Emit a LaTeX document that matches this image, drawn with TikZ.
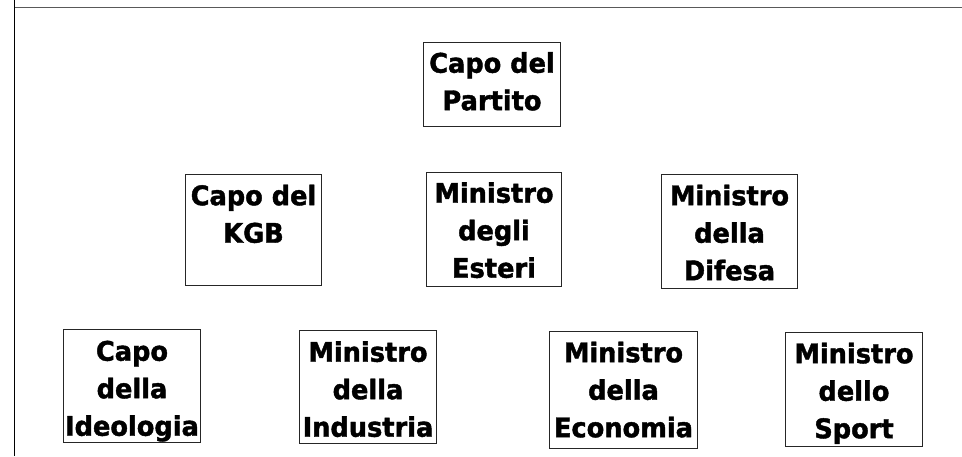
\documentclass[tikz,border=0pt]{standalone}
\usepackage{fontspec}
\newfontfamily\heavy{DejaVu Sans Bold}[FakeBold=1.5,FakeStretch=0.95]
\begin{document}
\begin{tikzpicture}[x=1pt,y=-1pt,
  box/.style={draw=black!85, line width=1pt, inner sep=0pt, anchor=north west},
  lbl/.style={inner sep=0pt, anchor=north, align=center, font=\heavy\fontsize{27}{37.5}\selectfont},
  frame/.style={line width=1.8pt}]
\useasboundingbox (0,0) rectangle (962,456);
\newcommand\obox[7]{%
  \node[box, minimum width={(#4-#2)*1pt}, minimum height={(#5-#3)*1pt}] (#1) at (#2,#3) {};
  \node[lbl] (#1t) at ([yshift=-#6pt]#1.north) {#7};}
% frame lines
\coordinate (ftop) at (14.5,0);
\coordinate (fbot) at (14.5,456);
\coordinate (hl) at (14.5,7.5);
\coordinate (hr) at (962,7.5);
\draw[frame, black!65] (hl) -- (hr);
\draw[frame, black] (ftop) -- (fbot);
% boxes
\obox{par}{423}{42}{560}{126}{10}{Capo del\\Partito}
\obox{kgb}{185}{174}{321}{285}{10.5}{Capo del\\KGB}
\obox{est}{426}{172}{561}{286}{10}{Ministro\\degli\\Esteri}
\obox{dif}{661}{174}{797}{288}{10.5}{Ministro\\della\\Difesa}
\obox{ide}{63}{329}{200}{442}{11.5}{Capo\\della\\Ideologia}
\obox{ind}{299}{330}{436}{443}{11}{Ministro\\della\\Industria}
\obox{eco}{549}{331}{697}{448}{10.5}{Ministro\\della\\Economia}
\obox{spo}{785}{332}{922}{446}{10.5}{Ministro\\dello\\Sport}
\end{tikzpicture}
\end{document}
